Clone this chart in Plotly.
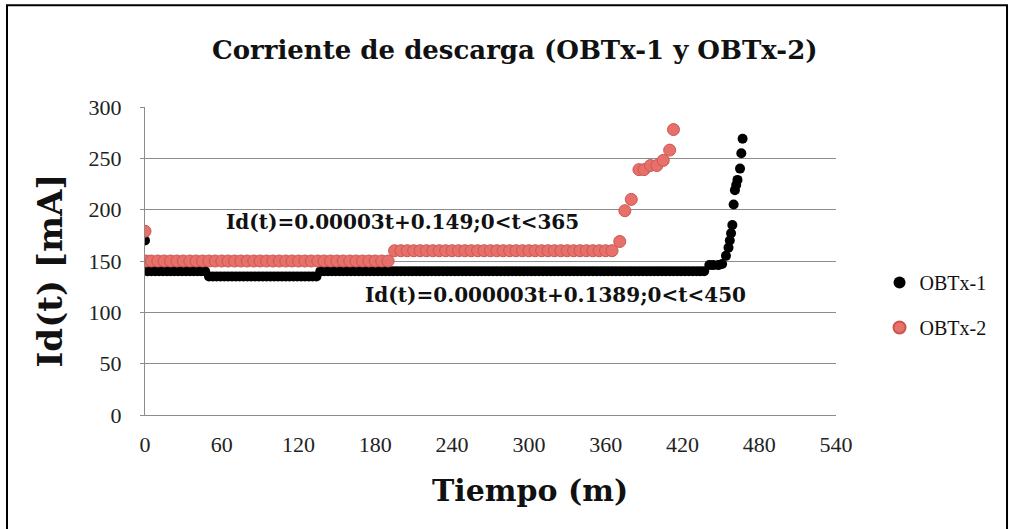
import plotly.graph_objects as go

# Discharge current readings, time in minutes, current in mA
obtx1_t = [0,
           2, 5, 8, 11, 14, 17, 20, 23, 26, 29, 32, 35, 38, 41, 44, 47,
           50, 53, 56, 59, 62, 65, 68, 71, 74, 77, 80, 83, 86, 89, 92, 95, 98, 101,
           104, 107, 110, 113, 116, 119, 122, 125, 128, 131, 134,
           137, 140, 143, 146, 149, 152, 155, 158, 161, 164, 167, 170, 173, 176, 179,
           182, 185, 188, 191, 194, 197, 200, 203, 206, 209, 212, 215, 218, 221, 224,
           227, 230, 233, 236, 239, 242, 245, 248, 251, 254, 257, 260, 263, 266, 269,
           272, 275, 278, 281, 284, 287, 290, 293, 296, 299, 302, 305, 308, 311, 314,
           317, 320, 323, 326, 329, 332, 335, 338, 341, 344, 347, 350, 353, 356, 359,
           362, 365, 368, 371, 374, 377, 380, 383, 386, 389, 392, 395, 398, 401, 404,
           407, 410, 413, 416, 419, 422, 425, 428, 431, 434, 437,
           441, 444, 448, 451, 454, 456, 457, 458, 459, 460, 461, 462, 463, 465, 466, 467]
obtx1_i = [170,
           140, 140, 140, 140, 140, 140, 140, 140, 140, 140, 140, 140, 140, 140, 140, 140,
           135, 135, 135, 135, 135, 135, 135, 135, 135, 135, 135, 135, 135, 135, 135, 135, 135, 135,
           135, 135, 135, 135, 135, 135, 135, 135, 135, 135, 135,
           140, 140, 140, 140, 140, 140, 140, 140, 140, 140, 140, 140, 140, 140, 140,
           140, 140, 140, 140, 140, 140, 140, 140, 140, 140, 140, 140, 140, 140, 140,
           140, 140, 140, 140, 140, 140, 140, 140, 140, 140, 140, 140, 140, 140, 140,
           140, 140, 140, 140, 140, 140, 140, 140, 140, 140, 140, 140, 140, 140, 140,
           140, 140, 140, 140, 140, 140, 140, 140, 140, 140, 140, 140, 140, 140, 140,
           140, 140, 140, 140, 140, 140, 140, 140, 140, 140, 140, 140, 140, 140, 140,
           140, 140, 140, 140, 140, 140, 140, 140, 140, 140, 140,
           146, 146, 146, 147, 155, 163, 170, 177, 185, 205, 219, 224, 229, 240, 255, 269]

obtx2_t = [0,
           1, 5, 10, 15, 20, 25, 30, 35, 40, 45, 50, 55, 60, 65, 70, 75, 80, 85, 90,
           95, 100, 105, 110, 115, 120, 125, 130, 135, 140, 145, 150, 155, 160, 165,
           170, 175, 180, 185, 190,
           195, 200, 205, 210, 215, 220, 225, 230, 235, 240, 245, 250, 255, 260, 265,
           270, 275, 280, 285, 290, 295, 300, 305, 310, 315, 320, 325, 330, 335, 340,
           345, 350, 355, 360, 365,
           371, 375, 380, 386, 390, 395, 400, 405, 410, 413]
obtx2_i = [179,
           150, 150, 150, 150, 150, 150, 150, 150, 150, 150, 150, 150, 150, 150, 150, 150, 150, 150, 150,
           150, 150, 150, 150, 150, 150, 150, 150, 150, 150, 150, 150, 150, 150, 150,
           150, 150, 150, 150, 150,
           160, 160, 160, 160, 160, 160, 160, 160, 160, 160, 160, 160, 160, 160, 160,
           160, 160, 160, 160, 160, 160, 160, 160, 160, 160, 160, 160, 160, 160, 160,
           160, 160, 160, 160, 160,
           169, 199, 210, 239, 239, 243, 243, 248, 258, 278]

x_ticks = [0, 60, 120, 180, 240, 300, 360, 420, 480, 540]
y_ticks = [0, 50, 100, 150, 200, 250, 300]

fit_labels = ["Id(t)=0.00003t+0.149;0<t<365", "Id(t)=0.000003t+0.1389;0<t<450"]

SERIF = "Liberation Serif"
BOLD = "DejaVu Serif"
INK = "#111111"

fig = go.Figure()
fig.add_trace(go.Scatter(
    x=obtx1_t, y=obtx1_i, mode="markers", name="OBTx-1", legend="legend",
    marker=dict(size=10, color="#000000", line=dict(width=0)),
))
fig.add_trace(go.Scatter(
    x=obtx2_t, y=obtx2_i, mode="markers", name="OBTx-2", legend="legend2",
    marker=dict(size=12, color="#e8706a", line=dict(width=1, color="#c85750")),
))

# Fit equations drawn next to the two plateaus
fig.add_annotation(x=201, y=188, xref="x", yref="y", text="<b>%s</b>" % fit_labels[0],
                   showarrow=False, xanchor="center", yanchor="middle",
                   font=dict(family=BOLD, size=20, color=INK))
fig.add_annotation(x=321, y=117, xref="x", yref="y", text="<b>%s</b>" % fit_labels[1],
                   showarrow=False, xanchor="center", yanchor="middle",
                   font=dict(family=BOLD, size=20, color=INK))

# Titles
fig.add_annotation(x=0.5355, y=1.184, xref="paper", yref="paper",
                   text="<b>Corriente de descarga (OBTx-1 y OBTx-2)</b>", showarrow=False,
                   xanchor="center", yanchor="middle",
                   font=dict(family=BOLD, size=26, color=INK))
fig.add_annotation(x=-0.1375, y=0.469, xref="paper", yref="paper", textangle=-90,
                   text="<b>Id(t) [mA]</b>", showarrow=False,
                   xanchor="center", yanchor="middle",
                   font=dict(family=BOLD, size=34, color=INK))
fig.add_annotation(x=0.557, y=-0.245, xref="paper", yref="paper",
                   text="<b>Tiempo (m)</b>", showarrow=False,
                   xanchor="center", yanchor="middle",
                   font=dict(family=BOLD, size=30, color=INK))

# Outer chart frame
fig.add_shape(type="rect", xref="paper", yref="paper",
              x0=-0.1997, x1=1.2475, y0=-0.40, y1=1.330,
              line=dict(color="#000000", width=2), fillcolor="rgba(0,0,0,0)", layer="below")

legend_common = dict(x=1.063, xanchor="left", yanchor="middle",
                     font=dict(family=SERIF, size=20, color=INK),
                     bgcolor="rgba(0,0,0,0)", itemsizing="constant")

fig.update_layout(
    width=1009, height=529,
    margin=dict(l=145, r=173, t=107, b=114, pad=0),
    paper_bgcolor="white", plot_bgcolor="white",
    showlegend=True,
    legend=dict(y=0.4305, **legend_common),
    legend2=dict(y=0.284, **legend_common),
    xaxis=dict(range=[0, 540], tickvals=x_ticks, showgrid=False,
               showline=True, linecolor="#8c8c8c", linewidth=1,
               ticks="", zeroline=False, ticklabelstandoff=10,
               tickfont=dict(family=SERIF, size=22, color="#222222")),
    yaxis=dict(range=[0, 300], tickvals=y_ticks, showgrid=True,
               gridcolor="#8c8c8c", gridwidth=1,
               showline=True, linecolor="#8c8c8c", linewidth=1,
               ticks="outside", ticklen=4, tickcolor="#8c8c8c", zeroline=False,
               ticklabelstandoff=14,
               tickfont=dict(family=SERIF, size=22, color="#222222")),
)

fig.write_html("out.html")
